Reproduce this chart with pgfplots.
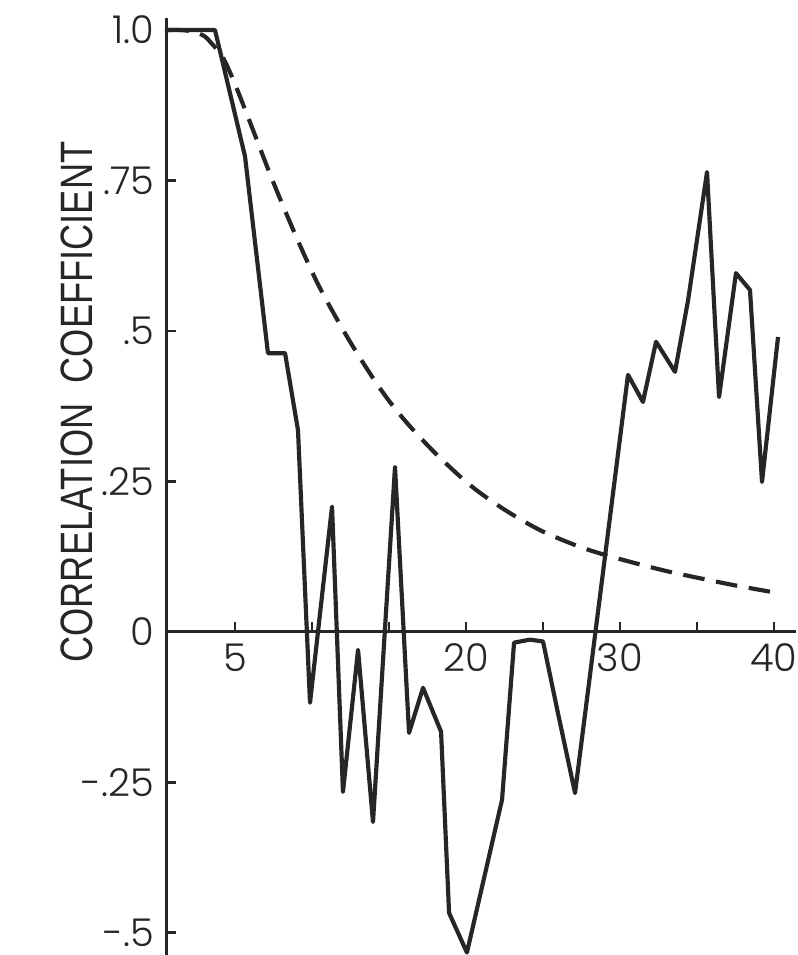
\documentclass[border=0pt]{standalone}
\usepackage{pgfplots}
\pgfplotsset{compat=1.18}
\usepackage{graphicx}
\usepackage{fontspec}
\setmainfont{Poppins Light}
\newfontfamily\labfont{Liberation Sans}
\definecolor{ink}{HTML}{262626}

\begin{document}
\begin{tikzpicture}
\begin{axis}[
  scale only axis, width=189pt, height=281.1pt,
  xmin=0.52, xmax=41.43, ymin=-0.537, ymax=1.02,
  axis x line=middle, axis y line=left,
  axis line style={-, line width=0.9pt, ink},
  xtick={5,10,...,40}, xticklabels={5,,,20,,30,,40},
  ytick={-0.5,-0.25,0,0.25,0.5,0.75,1},
  yticklabels={-.5,-.25,0,.25,.5,.75,1.0},
  tick style={ink, line width=0.8pt},
  tick align=inside,
  major tick length=3pt,
  /pgf/number format/assume math mode=true,
  ticklabel style={font=\fontsize{11.5}{13}\selectfont, text=ink},
  yticklabel style={xshift=0pt},
  ylabel={\labfont\fontsize{13.6}{16}\selectfont\scalebox{0.8}[1]{CORRELATION\ \ COEFFICIENT}},
  ylabel style={at={(axis description cs:-0.142,0.59)}, anchor=center, text=ink},
  clip=false,
]
\addplot[ink, line width=1.25pt, line join=round] coordinates {
(0.45,1.0) (3.70,1.0) (5.65,0.79) (7.14,0.463) (8.25,0.463) (9.09,0.335)
(9.87,-0.118) (11.30,0.208) (12.01,-0.266) (12.99,-0.030) (13.96,-0.316)
(15.39,0.274) (16.30,-0.168) (17.21,-0.093) (18.38,-0.166) (18.90,-0.467)
(20.06,-0.533) (22.34,-0.279) (23.12,-0.018) (24.16,-0.013) (25.0,-0.016)
(25.97,-0.135) (27.08,-0.268) (30.52,0.427) (31.49,0.382) (32.34,0.482)
(33.57,0.432) (34.42,0.551) (35.65,0.764) (36.43,0.390) (37.53,0.596)
(38.44,0.568) (39.22,0.249) (40.26,0.490)
};
\addplot[ink, line width=1.25pt, dash pattern=on 6.5pt off 3.5pt, smooth] coordinates {
(0.6,1.0) (1.5,1.0) (2.3,0.997) (3.0,0.99) (3.4,0.98) (4.2,0.955) (5,0.91)
(6,0.845) (7.47,0.748) (9,0.655) (10.5,0.572) (12.47,0.482) (14.4,0.405)
(16,0.352) (18,0.297) (20.3,0.243) (22.5,0.203) (24.8,0.169) (27,0.145)
(28.6,0.131) (30.7,0.116) (33,0.101) (35,0.090) (37.5,0.077) (39.9,0.066)
};
\coordinate (bl) at (rel axis cs:-0.2635,0);
\coordinate (tr) at (rel axis cs:1.003,1.0192);
\end{axis}
\pgfresetboundingbox
\path[use as bounding box] (bl) rectangle (tr);
\end{tikzpicture}
\end{document}
